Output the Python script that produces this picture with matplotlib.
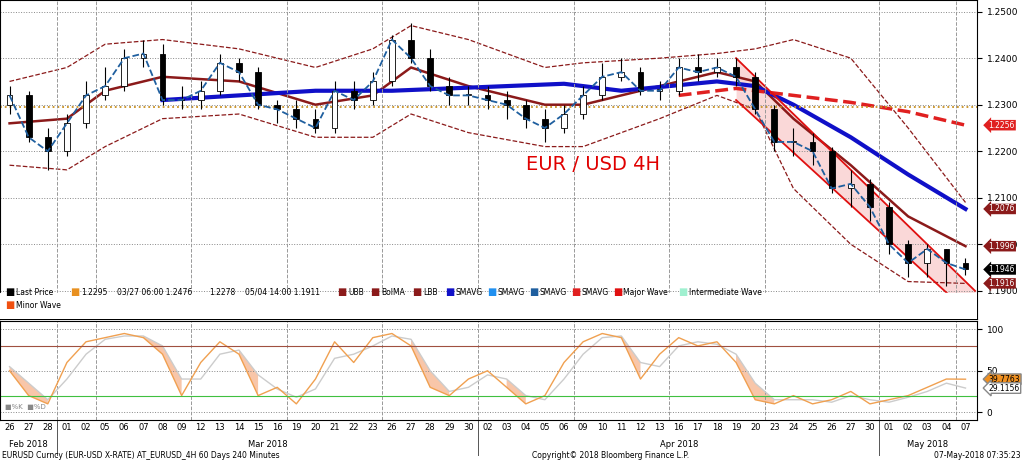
import numpy as np
import matplotlib
matplotlib.use("Agg")
import matplotlib.pyplot as plt

# ── DATA (daily) ─────────────────────────────────────────────────────────────
day_labels = ["26", "27", "28",
              "01", "02", "05", "06", "07", "08", "09", "12", "13", "14", "15", "16",
              "19", "20", "21", "22", "23", "26", "27", "28", "29", "30",
              "02", "03", "04", "05", "06", "09", "10", "11", "12", "13", "16", "17",
              "18", "19", "20", "23", "24", "25", "26", "27", "30",
              "01", "02", "03", "04", "07"]
month_labels = ["Feb 2018", "Mar 2018", "Apr 2018", "May 2018"]
month_start = [0, 3, 25, 46]

opens  = [1.2300, 1.2320, 1.2230, 1.2200, 1.2260, 1.2320, 1.2340, 1.2400, 1.2410, 1.2310,
          1.2310, 1.2330, 1.2390, 1.2370, 1.2300, 1.2290, 1.2270, 1.2250, 1.2330, 1.2310,
          1.2350, 1.2440, 1.2400, 1.2340, 1.2320, 1.2320, 1.2310, 1.2300, 1.2270, 1.2250,
          1.2280, 1.2320, 1.2360, 1.2370, 1.2330, 1.2330, 1.2380, 1.2370, 1.2380, 1.2360,
          1.2290, 1.2220, 1.2220, 1.2200, 1.2120, 1.2130, 1.2080, 1.2000, 1.1960, 1.1990, 1.1960]
closes = [1.2320, 1.2230, 1.2200, 1.2260, 1.2320, 1.2340, 1.2400, 1.2410, 1.2310, 1.2310,
          1.2330, 1.2390, 1.2370, 1.2300, 1.2290, 1.2270, 1.2250, 1.2330, 1.2310, 1.2350,
          1.2440, 1.2400, 1.2340, 1.2320, 1.2320, 1.2310, 1.2300, 1.2270, 1.2250, 1.2280,
          1.2320, 1.2360, 1.2370, 1.2330, 1.2330, 1.2380, 1.2370, 1.2380, 1.2360, 1.2290,
          1.2220, 1.2220, 1.2200, 1.2120, 1.2130, 1.2080, 1.2000, 1.1960, 1.1990, 1.1960, 1.1946]
highs  = [1.2340, 1.2330, 1.2250, 1.2280, 1.2350, 1.2380, 1.2420, 1.2440, 1.2430, 1.2340,
          1.2350, 1.2410, 1.2400, 1.2380, 1.2310, 1.2310, 1.2290, 1.2350, 1.2350, 1.2370,
          1.2450, 1.2476, 1.2420, 1.2360, 1.2340, 1.2340, 1.2330, 1.2310, 1.2290, 1.2300,
          1.2340, 1.2390, 1.2400, 1.2380, 1.2350, 1.2400, 1.2410, 1.2400, 1.2400, 1.2370,
          1.2300, 1.2250, 1.2240, 1.2210, 1.2160, 1.2140, 1.2090, 1.2010, 1.2000, 1.1990, 1.1970]
lows   = [1.2280, 1.2220, 1.2160, 1.2190, 1.2250, 1.2310, 1.2330, 1.2380, 1.2300, 1.2290,
          1.2290, 1.2320, 1.2350, 1.2290, 1.2260, 1.2250, 1.2240, 1.2240, 1.2290, 1.2300,
          1.2340, 1.2390, 1.2330, 1.2300, 1.2300, 1.2290, 1.2270, 1.2250, 1.2220, 1.2240,
          1.2270, 1.2310, 1.2350, 1.2320, 1.2310, 1.2320, 1.2350, 1.2360, 1.2340, 1.2280,
          1.2200, 1.2190, 1.2170, 1.2110, 1.2080, 1.2050, 1.1980, 1.1930, 1.1930, 1.1911, 1.1935]

sma_x   = [8, 12, 16, 20, 26, 29, 32, 37, 39, 41, 44, 47, 50]
sma_y   = [1.2310, 1.2320, 1.2330, 1.2330, 1.2340, 1.2345, 1.2330, 1.2350, 1.2340, 1.2300,
           1.2230, 1.2150, 1.2076]
bolma_x = [0, 3, 5, 8, 12, 16, 19, 21, 24, 28, 30, 34, 37, 39, 41, 44, 47, 50]
bolma_y = [1.2260, 1.2270, 1.2330, 1.2360, 1.2350, 1.2300, 1.2320, 1.2380, 1.2340, 1.2300,
           1.2300, 1.2340, 1.2370, 1.2350, 1.2270, 1.2170, 1.2060, 1.1996]
ubb_y   = [1.2350, 1.2380, 1.2430, 1.2440, 1.2420, 1.2380, 1.2420, 1.2470, 1.2440, 1.2380,
           1.2390, 1.2400, 1.2410, 1.2420, 1.2440, 1.2400, 1.2250, 1.2090]
lbb_y   = [1.2170, 1.2160, 1.2210, 1.2270, 1.2280, 1.2230, 1.2230, 1.2280, 1.2240, 1.2210,
           1.2210, 1.2270, 1.2320, 1.2290, 1.2120, 1.2000, 1.1920, 1.1916]
sma2_x  = [35, 38, 41, 44, 47, 50]
sma2_y  = [1.2320, 1.2335, 1.2320, 1.2305, 1.2285, 1.2256]
chan_x  = [38, 50.5]
chan_up = [1.2400, 1.1900]
chan_lo = [1.2310, 1.1840]
ref_level = 1.2295

stoch_k = [50, 20, 10, 60, 85, 90, 95, 90, 70, 20, 60, 85, 70, 20, 30, 10, 40, 85, 60, 90,
           95, 80, 30, 20, 40, 50, 30, 10, 20, 60, 85, 95, 90, 40, 70, 90, 80, 85, 60, 15,
           10, 20, 10, 15, 25, 10, 15, 20, 30, 40, 39.8]
stoch_d = [55, 35, 15, 40, 70, 88, 92, 92, 80, 40, 40, 70, 75, 45, 28, 18, 28, 65, 70, 80,
           92, 88, 50, 25, 30, 45, 40, 20, 15, 40, 70, 90, 92, 60, 55, 80, 85, 82, 70, 35,
           15, 15, 15, 12, 20, 15, 12, 18, 25, 35, 29.1]

# ── PLOT ──────────────────────────────────────────────────────────────────────
fig = plt.figure(figsize=(10.23, 4.62), dpi=100)
ax = fig.add_axes([0.0, 0.31, 0.955, 0.69])
ax2 = fig.add_axes([0.0, 0.09, 0.955, 0.215], sharex=ax)
x = np.arange(len(closes))

for i in x:
    up = closes[i] >= opens[i]
    ax.vlines(i, lows[i], highs[i], color="black", lw=0.8, zorder=3)
    ax.bar(i, abs(closes[i] - opens[i]) or 0.0003, bottom=min(opens[i], closes[i]),
           width=0.3, color="white" if up else "black", edgecolor="black", lw=0.6, zorder=4)

ax.plot(x, closes, ls="--", color="#1f5f9f", lw=1.3, zorder=5)
ax.plot(bolma_x, ubb_y, ls="--", color="#8b1a1a", lw=0.9)
ax.plot(bolma_x, lbb_y, ls="--", color="#8b1a1a", lw=0.9)
ax.plot(bolma_x, bolma_y, color="#8b1a1a", lw=1.8)
ax.plot(sma_x, sma_y, color="#1010c8", lw=3)
ax.plot(sma2_x, sma2_y, ls="--", color="#e02020", lw=2.5)
ax.axhline(ref_level, color="#c89020", ls=":", lw=1.3)
ax.fill_between(chan_x, chan_lo, chan_up, color="#f08080", alpha=0.3, lw=0)
ax.plot(chan_x, chan_up, color="#e01010", lw=1.3)
ax.plot(chan_x, chan_lo, color="#e01010", lw=1.3)
ax.text(27, 1.2160, "EUR / USD 4H", color="#e00000", fontsize=14)

ax.set_ylim(1.1840, 1.2525)
ax.set_xlim(-0.5, 50.6)
ax.yaxis.tick_right()
ax.set_yticks(np.arange(1.19, 1.2501, 0.01))
ax.set_yticklabels([f"{v:.4f}" for v in np.arange(1.19, 1.2501, 0.01)], fontsize=6.5)
ax.grid(axis="y", ls=":", color="#888888", lw=0.7)
ax.tick_params(axis="x", bottom=False, labelbottom=False)
week_starts = [0, 3, 5, 10, 15, 20, 25, 30, 35, 40, 46, 50]
for w in week_starts:
    ax.axvline(w - 0.5, color="#999999", ls="--", lw=0.7)
    ax2.axvline(w - 0.5, color="#999999", ls="--", lw=0.7)

# legend strip
ax.axhspan(1.1840, 1.1895, color="white", zorder=6)
legend_items = [("Last Price", "black"), ("1.2295", "#e89020"), ("03/27 06:00 1.2476", None),
                ("1.2278", None), ("05/04 14:00 1.1911", None), ("UBB", "#8b1a1a"),
                ("BolMA", "#8b1a1a"), ("LBB", "#8b1a1a"), ("SMAVG", "#1010c8"),
                ("SMAVG", "#2090f0"), ("SMAVG", "#1f5f9f"), ("SMAVG", "#e02020"),
                ("Major Wave", "#e01010"), ("Intermediate Wave", "#a0f0d0")]
lx = 0.005
for name, c in legend_items:
    if c:
        ax.text(lx, 0.075, "■", color=c, fontsize=7, transform=ax.transAxes, zorder=7)
        lx += 0.011
    ax.text(lx, 0.075, name, fontsize=5.5, transform=ax.transAxes, zorder=7)
    lx += 0.0048 * len(name) + 0.008
ax.text(0.005, 0.035, "■", color="#f05010", fontsize=7, transform=ax.transAxes, zorder=7)
ax.text(0.016, 0.035, "Minor Wave", fontsize=5.5, transform=ax.transAxes, zorder=7)

# right value tags
for val, c, tc in [(1.2256, "#e02020", "white"), (1.2076, "#8b1a1a", "white"),
                   (1.1996, "#8b1a1a", "white"), (1.1946, "black", "white"),
                   (1.1916, "#8b1a1a", "white")]:
    ax.text(1.012, (val - 1.1840) / (1.2525 - 1.1840), f"{val:.4f}", transform=ax.transAxes,
            color=tc, fontsize=5.5, va="center",
            bbox=dict(boxstyle="larrow,pad=0.1", fc=c, ec="none"))

# stochastic panel
ax2.plot(x, stoch_d, color="#cccccc", lw=1)
ax2.plot(x, stoch_k, color="#f0a050", lw=1)
ax2.fill_between(x, stoch_k, stoch_d, where=np.array(stoch_d) > np.array(stoch_k),
                 color="#f4a070", alpha=0.6, lw=0)
ax2.axhline(80, color="#a05040", lw=0.8)
ax2.axhline(20, color="#40c040", lw=0.8)
ax2.set_ylim(-10, 110)
ax2.yaxis.tick_right()
ax2.set_yticks([0, 50, 100])
ax2.set_yticklabels(["0", "50", "100"], fontsize=6.5)
ax2.grid(axis="y", ls=":", color="#888888", lw=0.7)
for val, c, tc in [(39.7763, "#f09020", "black"), (29.1156, "white", "black")]:
    ax2.text(1.012, (val + 10) / 120, f"{val:.4f}", transform=ax2.transAxes, color=tc,
             fontsize=5.5, va="center", bbox=dict(boxstyle="larrow,pad=0.1", fc=c, ec="#888888"))
ax2.text(0.005, 0.12, "■%K  ■%D", fontsize=5, color="#888888", transform=ax2.transAxes)

ax2.set_xticks(x)
ax2.set_xticklabels(day_labels, fontsize=6)
ax2.tick_params(axis="x", length=0, pad=2)
for m, s in zip(month_labels, month_start):
    end = month_start[month_start.index(s) + 1] if s != month_start[-1] else len(x)
    ax2.text((s + end - 1) / 2, -0.2, m, transform=ax2.get_xaxis_transform(),
             ha="center", va="top", fontsize=6)
    if s > 0:
        ax2.plot([s - 0.5, s - 0.5], [0, -0.35], transform=ax2.get_xaxis_transform(),
                 color="#555555", lw=0.7, clip_on=False)

fig.text(0.002, 0.008, "EURUSD Curncy (EUR-USD X-RATE) AT_EURUSD_4H 60 Days 240 Minutes", fontsize=5.5)
fig.text(0.52, 0.008, "Copyright\u00a9 2018 Bloomberg Finance L.P.", fontsize=5.5)
fig.text(0.998, 0.008, "07-May-2018 07:35:23", fontsize=5.5, ha="right")

fig.savefig("out.png", dpi=100)
